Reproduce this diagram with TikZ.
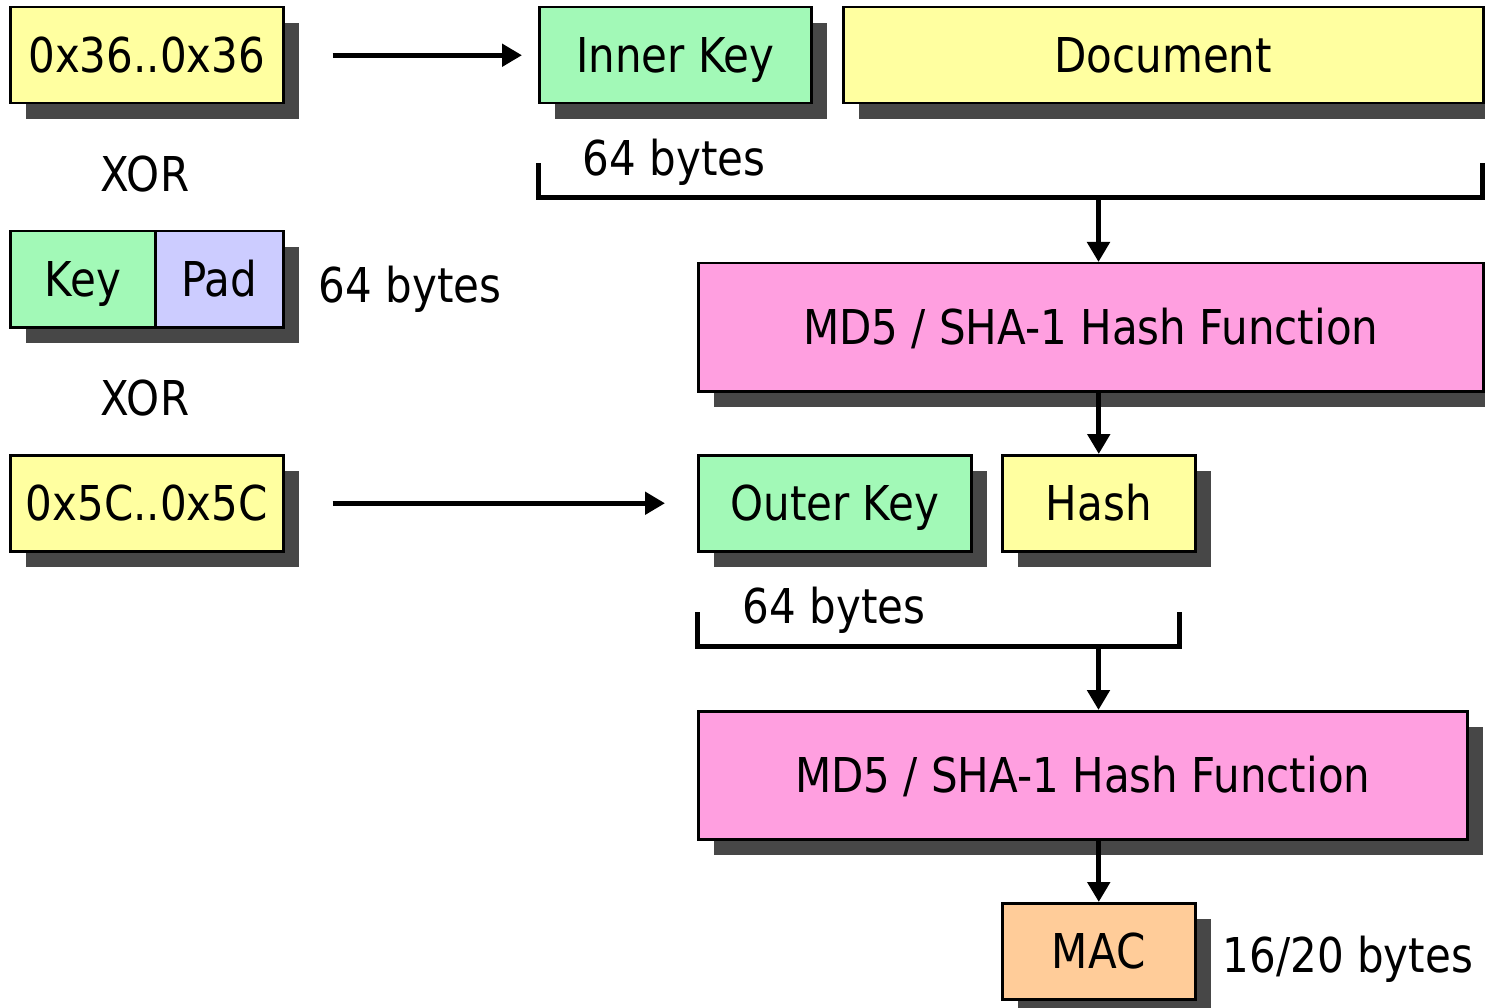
\documentclass[tikz,border=0pt]{standalone}
\usepackage{fontspec}
\setmainfont{DejaVu Sans}[FakeStretch=0.875]
\usetikzlibrary{arrows.meta,shadows}
\definecolor{padyellow}{HTML}{FFFFA0}
\definecolor{keygreen}{HTML}{A2F9B7}
\definecolor{padblue}{HTML}{CCCCFF}
\definecolor{hashpink}{HTML}{FF9FE0}
\definecolor{macorange}{HTML}{FFCC99}
\definecolor{shadowgray}{HTML}{474747}
\tikzset{
  blk/.style={draw=black, line width=2.5pt, inner sep=0pt, anchor=north west,
    text height=35pt, text depth=0pt,
    drop shadow={shadow xshift=16pt, shadow yshift=-16pt, fill=shadowgray, opacity=1}},
  lbl/.style={inner sep=0pt, text height=35pt, text depth=0pt},
  conn/.style={line width=5pt, -{Triangle[length=20pt,width=22pt]}},
  brace/.style={line width=5pt, line cap=rect},
}
\begin{document}
\begin{tikzpicture}[x=1pt,y=-1pt,font=\fontsize{48}{56}\selectfont]
\useasboundingbox (0,0) rectangle (1485,1008);

% left column: pads and key
\node[blk, fill=padyellow, minimum width=273pt, minimum height=96pt] (ipad) at (9,6) {0x36..0x36};
\node[lbl] (xor1) at (145,174) {XOR};
\node[blk, fill=keygreen, minimum width=145pt, minimum height=96pt] (key) at (9,230) {Key};
\node[blk, fill=padblue, minimum width=128pt, minimum height=96pt] (pad) at (154,230) {Pad};
\node[lbl] (len1) at (410,285) {64 bytes};
\node[lbl] (xor2) at (145,398) {XOR};
\node[blk, fill=padyellow, minimum width=273pt, minimum height=96pt] (opad) at (9,454) {0x5C..0x5C};

% inner hash input
\node[blk, fill=keygreen, minimum width=272pt, minimum height=96pt] (ikey) at (538,6) {Inner Key};
\node[blk, fill=padyellow, minimum width=640pt, minimum height=96pt] (doc) at (842,6) {Document};
\node[lbl] (len2) at (674,158) {64 bytes};
\draw[brace] (538,166) -- (538,198) -- (1482,198) -- (1482,166);
\coordinate (join1) at (1098.5,198);

% first hash
\node[blk, fill=hashpink, minimum width=785pt, minimum height=128pt] (h1) at (697,262) {MD5 / SHA-1 Hash Function};

% outer hash input
\node[blk, fill=keygreen, minimum width=273pt, minimum height=96pt] (okey) at (697,454) {Outer Key};
\node[blk, fill=padyellow, minimum width=193pt, minimum height=96pt] (hash) at (1001,454) {Hash};
\node[lbl] (len3) at (834,606) {64 bytes};
\draw[brace] (697,614) -- (697,646) -- (1179,646) -- (1179,614);
\coordinate (join2) at (1098.5,646);

% second hash and result
\node[blk, fill=hashpink, minimum width=769pt, minimum height=128pt] (h2) at (697,710) {MD5 / SHA-1 Hash Function};
\node[blk, fill=macorange, minimum width=193pt, minimum height=96pt] (mac) at (1001,902) {MAC};
\node[lbl] (len4) at (1348,955) {16/20 bytes};

% connectors
\draw[conn, shorten <=48pt, shorten >=16pt] (ipad.east) -- (ikey.west);
\draw[conn, shorten <=48pt, shorten >=32pt] (opad.east) -- (okey.west);
\draw[conn] (join1) -- (join1 |- h1.north);
\draw[conn] (hash.north |- h1.south) -- (hash.north);
\draw[conn] (join2) -- (join2 |- h2.north);
\draw[conn] (mac.north |- h2.south) -- (mac.north);
\end{tikzpicture}
\end{document}
